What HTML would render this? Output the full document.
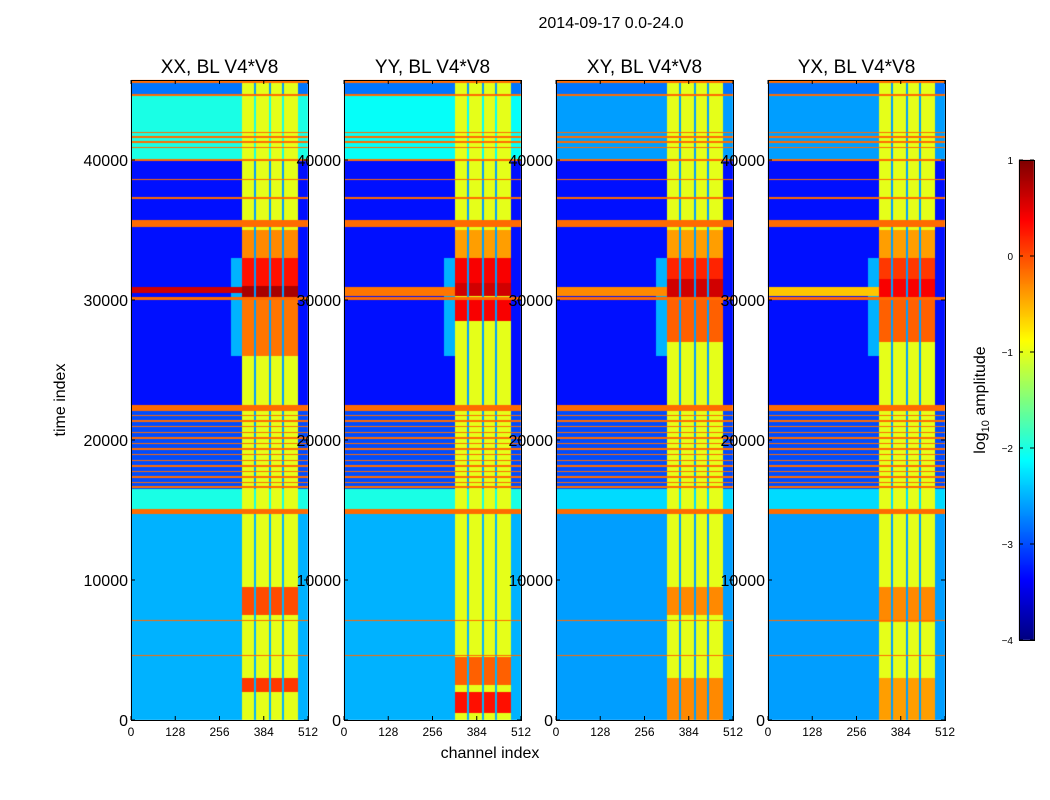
<!DOCTYPE html>
<html><head><meta charset="utf-8"><style>
body{margin:0;background:#fff;width:1050px;height:800px;overflow:hidden;font-family:"Liberation Sans",sans-serif}
#wrap{position:relative;width:1050px;height:800px}
canvas{position:absolute;left:0;top:0}
svg{position:absolute;left:0;top:0}
</style></head><body>
<div id="wrap">
<canvas id="cv" width="1050" height="800"></canvas>
<svg id="sv" width="1050" height="800"></svg>
</div>
<script>
// ---- data ----
const panelTitles = ["XX, BL V4*V8","YY, BL V4*V8","XY, BL V4*V8","YX, BL V4*V8"];
const xTicks = [0,128,256,384,512];
const yTicks = [0,10000,20000,30000,40000];
const cbTicks = [1,0,-1,-2,-3,-4];
const flagRows = [[45500,45700],[44550,44700],[41900,42000],[41600,41700],[41250,41350],[40850,40950],[39950,40050],[38550,38650],[37250,37350],[35200,35700],[30000,30200],[22100,22500],[21700,21800],[21300,21400],[20900,21000],[20500,20600],[20100,20200],[19700,19800],[19300,19400],[18900,19000],[18500,18600],[18100,18200],[17700,17800],[17300,17400],[16900,17000],[16600,16700],[14750,15050],[7050,7150],[4550,4650]];
const bgXX = [[0,15000,-2.5],[15000,16500,-2.0],[16500,22500,-3.0],[22500,40000,-3.3],[40000,44600,-2.0],[44600,45700,-2.8]];
const bgYY = [[0,15000,-2.5],[15000,16500,-2.0],[16500,22500,-3.0],[22500,40000,-3.3],[40000,44600,-2.1],[44600,45700,-2.8]];
const bgXY = [[0,15000,-2.6],[15000,16500,-2.3],[16500,22500,-3.0],[22500,40000,-3.3],[40000,44600,-2.6],[44600,45700,-2.8]];
const bgYX = [[0,15000,-2.6],[15000,16500,-2.3],[16500,22500,-3.0],[22500,40000,-3.3],[40000,44600,-2.6],[44600,45700,-2.8]];
const hotXX = [[2000,3000,0.1],[7500,9500,0.0],[26000,30000,-0.2],[30000,31000,0.8],[31000,33000,0.3],[33000,35000,-0.3]];
const hotYY = [[500,2000,0.3],[2500,4500,-0.1],[28500,30000,0.4],[30300,31200,0.6],[31200,33000,0.4],[33000,35000,-0.4]];
const hotXY = [[0,3000,-0.3],[7500,9500,-0.3],[27000,30000,-0.1],[30000,31500,0.6],[31500,33000,0.2],[33000,35000,-0.4]];
const hotYX = [[0,3000,-0.4],[7000,9500,-0.3],[27000,30000,-0.1],[30000,31500,0.4],[31500,33000,0.1],[33000,35000,-0.4]];
const wideXX = [[30500,30900,0.6]];
const wideYY = [[30300,30900,-0.2]];
const wideXY = [[30300,30900,-0.3]];
const wideYX = [[30300,30900,-0.6]];
const bandCh = [322,482];
const bandLevel = -1.0;
const gapCh = [[356,362],[398,404],[438,444]];
const gapLevel = -2.6;

const panels = [
 {x:131,title:panelTitles[0],bg:bgXX,hot:hotXX,wide:wideXX},
 {x:344,title:panelTitles[1],bg:bgYY,hot:hotYY,wide:wideYY},
 {x:556,title:panelTitles[2],bg:bgXY,hot:hotXY,wide:wideXY},
 {x:768,title:panelTitles[3],bg:bgYX,hot:hotYX,wide:wideYX}
];
const PW=177, PT=80, PH=640;
const yScale = t => 720 - t/1000*14;
const tFromY = y => (720-y)*1000/14;
const xScale = (p,c) => p.x + c/512*PW;
const cFromX = (p,x) => (x-p.x)/PW*512;
const vmin=-4, vmax=1;
function jet(v){
  let f=(v-vmin)/(vmax-vmin); f=Math.max(0,Math.min(1,f));
  const cl=x=>Math.max(0,Math.min(1,x));
  const r=cl(1.5-Math.abs(4*f-3)), g=cl(1.5-Math.abs(4*f-2)), b=cl(1.5-Math.abs(4*f-1));
  return [r*255|0,g*255|0,b*255|0];
}
function seg(arr,t){for(const s of arr){if(t>=s[0]&&t<s[1])return s[2];}return null;}
function value(p,t,c){
  for(const f of flagRows){if(t>=f[0]&&t<f[1])return -0.15;}
  const w=seg(p.wide,t); if(w!==null && c<bandCh[0]) return w;
  let v=seg(p.bg,t); if(v===null)v=-3;
  if(c>=bandCh[0]&&c<bandCh[1]){
    for(const g of gapCh){if(c>=g[0]&&c<g[1])return Math.max(v,gapLevel);}
    const h=seg(p.hot,t);
    v=Math.max(bandLevel,h===null?bandLevel:h);
    if(w!==null)v=Math.max(v,w);
  } else if(c>=290&&c<bandCh[0]&&t>26000&&t<33000){ v=Math.max(v,-2.5); }
  return v;
}
const ctx=document.getElementById('cv').getContext('2d');
for(const p of panels){
  const img=ctx.createImageData(PW,PH);
  for(let y=0;y<PH;y++){
    const t=tFromY(PT+y+0.5);
    for(let x=0;x<PW;x++){
      const c=cFromX(p,p.x+x+0.5);
      const col=jet(value(p,t,c));
      const i=(y*PW+x)*4;
      img.data[i]=col[0];img.data[i+1]=col[1];img.data[i+2]=col[2];img.data[i+3]=255;
    }
  }
  ctx.putImageData(img,p.x,PT);
}
for(let y=160;y<640;y++){
  const v=vmax-(y-160)/480*(vmax-vmin);
  const c=jet(v); ctx.fillStyle=`rgb(${c[0]},${c[1]},${c[2]})`; ctx.fillRect(1019,y,15,1);
}
const sv=document.getElementById('sv'), NS='http://www.w3.org/2000/svg';
function mk(tag,attrs,parent){const e=document.createElementNS(NS,tag);for(const k in attrs)e.setAttribute(k,attrs[k]);(parent||sv).appendChild(e);return e;}
function txt(s,attrs){const e=mk('text',attrs);e.textContent=s;return e;}
const title=txt("2014-09-17 0.0-24.0",{x:611,y:28,'font-size':16,'text-anchor':'middle'});


panels.forEach((p,i)=>{
  const g=mk('g',{});
  
  
  mk('rect',{x:p.x+0.5,y:PT+0.5,width:PW,height:PH,fill:'none',stroke:'#000'},g);
  const tt=mk('text',{x:p.x+PW/2,y:73,'font-size':19,'text-anchor':'middle'},g); tt.textContent=p.title;
  
  
  xTicks.forEach(v=>{const x=xScale(p,v);
    mk('line',{x1:x,x2:x,y1:720,y2:716,stroke:'#000'},g);mk('line',{x1:x,x2:x,y1:80,y2:84,stroke:'#000'},g);
    const l=mk('text',{x:x,y:736,'font-size':12,'text-anchor':'middle'},g);l.textContent=v;
    
    });
  yTicks.forEach(v=>{const y=yScale(v);
    mk('line',{x1:p.x,x2:p.x+4,y1:y,y2:y,stroke:'#000'},g);mk('line',{x1:p.x+PW-4,x2:p.x+PW,y1:y,y2:y,stroke:'#000'},g);
    const l=mk('text',{x:p.x-3,y:y+6,'font-size':16,'text-anchor':'end'},g);l.textContent=v;
    
    });
});
const xl=txt("channel index",{x:490,y:758,'font-size':16,'text-anchor':'middle'});


const yl=txt("time index",{x:65,y:400,'font-size':16,'text-anchor':'middle',transform:'rotate(-90 65 400)'});


const cb=mk('rect',{x:1019.5,y:160.5,width:15,height:480,fill:'none',stroke:'#000'});


cbTicks.forEach(v=>{const y=160+(vmax-v)/(vmax-vmin)*480;
  mk('line',{x1:1019,x2:1023,y1:y,y2:y,stroke:'#000'});mk('line',{x1:1030,x2:1034,y1:y,y2:y,stroke:'#000'});
  const l=txt(v<0?'\u2212'+(-v):String(v),{x:1013,y:y+4,'font-size':10,'text-anchor':'end'});
  
  });
const cl=mk('text',{x:985,y:400,'font-size':16,'text-anchor':'middle',transform:'rotate(-90 985 400)'});
cl.innerHTML='log<tspan font-size="11" dy="4">10</tspan><tspan dy="-4"> amplitude</tspan>';


</script>
</body></html>
